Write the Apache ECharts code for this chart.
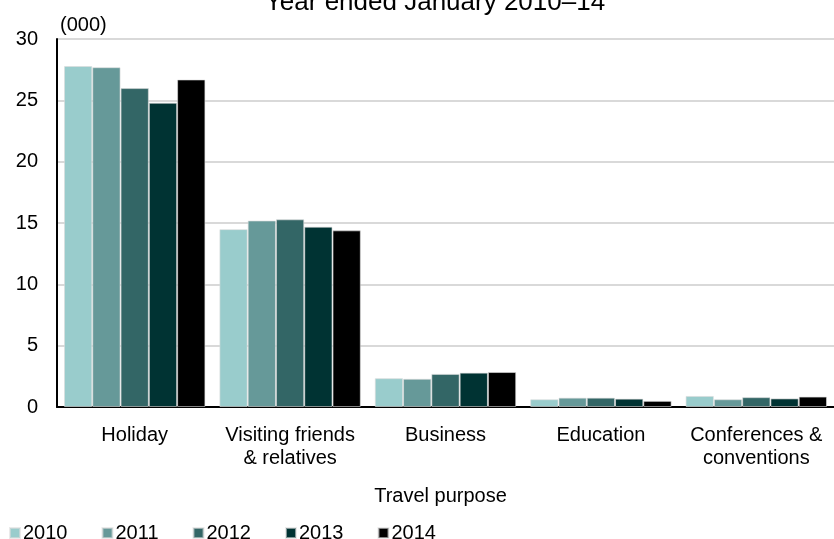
<!DOCTYPE html>
<html>
<head>
<meta charset="utf-8">
<script src="https://cdn.jsdelivr.net/npm/echarts@6/dist/echarts.min.js"></script>
<style>
html,body{margin:0;padding:0;background:#fff;}
#chart{width:834px;height:539px;}
</style>
</head>
<body>
<div id="chart"></div>
<script>
var categories = ['Holiday', 'Visiting friends\n& relatives', 'Business', 'Education', 'Conferences &\nconventions'];
var years = ['2010', '2011', '2012', '2013', '2014'];
var v2010 = [27.8, 14.5, 2.35, 0.63, 0.9];
var v2011 = [27.7, 15.2, 2.3, 0.76, 0.63];
var v2012 = [26.0, 15.3, 2.7, 0.76, 0.8];
var v2013 = [24.8, 14.7, 2.8, 0.68, 0.7];
var v2014 = [26.7, 14.4, 2.85, 0.5, 0.85];
var yTicks = [0, 5, 10, 15, 20, 25, 30];
var colors = ['#99CCCC', '#669999', '#336666', '#003333', '#000000'];

var seriesData = [v2010, v2011, v2012, v2013, v2014];
var FONT = 'Liberation Sans, Arial, sans-serif';

var chart = echarts.init(document.getElementById('chart'), null, {renderer: 'canvas'});
chart.setOption({
  animation: false,
  title: [{
    text: 'Year ended January 2010\u201314',
    left: 430, textAlign: 'center', top: -15,
    textStyle: {fontFamily: FONT, fontSize: 26, fontWeight: 'normal', color: '#000'}
  }, {
    text: '(000)', left: 55, top: 10,
    textStyle: {fontFamily: FONT, fontSize: 20, fontWeight: 'normal', color: '#000'}
  }],
  legend: {
    data: years, left: 4, top: 518,
    itemWidth: 10, itemHeight: 10, itemGap: 34,
    icon: 'rect',
    textStyle: {fontFamily: FONT, fontSize: 20, color: '#000', padding: [0,0,0,-2]}
  },
  grid: {left: 57, right: 0, top: 39, bottom: 132, containLabel: false},
  xAxis: {
    type: 'category', data: categories,
    name: 'Travel purpose', nameLocation: 'middle', nameGap: 79,
    nameTextStyle: {fontFamily: FONT, fontSize: 20, color: '#000', padding: [0,10,0,0]},
    axisLine: {lineStyle: {color: '#000', width: 2}},
    axisTick: {show: false},
    axisLabel: {fontFamily: FONT, fontSize: 20, color: '#000', margin: 17, lineHeight: 23, interval: 0}
  },
  yAxis: {
    type: 'value', min: yTicks[0], max: yTicks[yTicks.length-1], interval: 5,
    axisLine: {show: true, lineStyle: {color: '#000', width: 2}},
    axisTick: {show: false},
    axisLabel: {fontFamily: FONT, fontSize: 20, color: '#000', margin: 19},
    splitLine: {lineStyle: {color: '#d9d9d9', width: 2}}
  },
  series: years.map(function (y, i) {
    return {
      name: y, type: 'bar', data: seriesData[i],
      barGap: '0%', barCategoryGap: '9%',
      itemStyle: {color: colors[i], borderColor: 'rgba(220,220,220,0.6)', borderWidth: 1}
    };
  })
});
</script>
</body>
</html>
